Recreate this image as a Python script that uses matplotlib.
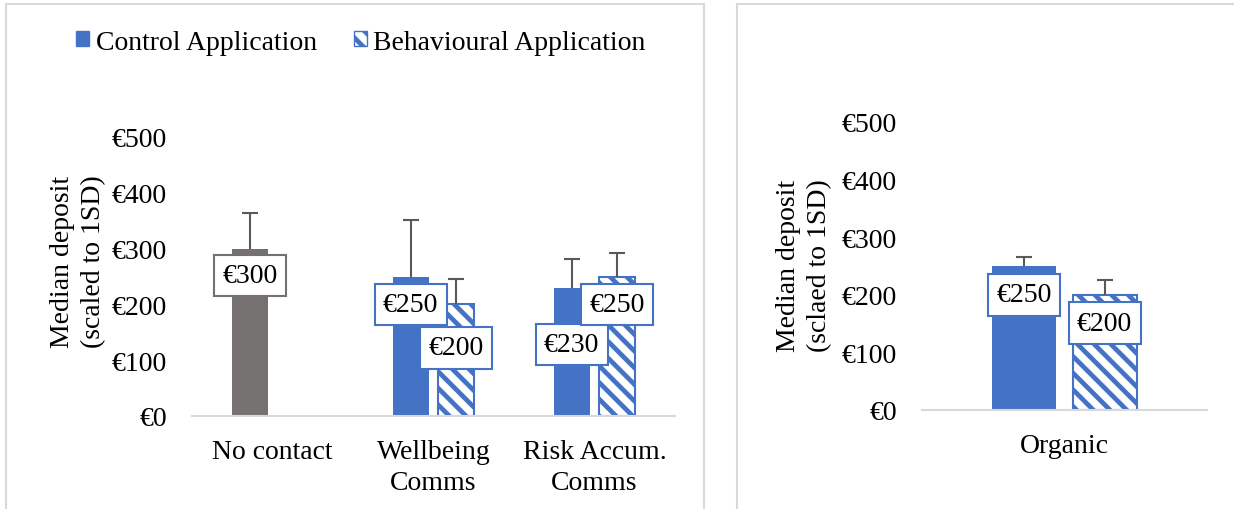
import matplotlib
matplotlib.use("Agg")
import matplotlib.pyplot as plt
from matplotlib.patches import Patch, Rectangle
import numpy as np

# ---------------- data ----------------
categories_left = ["No contact", "Wellbeing\nComms", "Risk Accum.\nComms"]
control_left = [300, 250, 230]
control_err_left = [63, 101, 51]
behav_left = [np.nan, 200, 250]
behav_err_left = [0, 46, 43]

categories_right = ["Organic"]
control_right = [250]
control_err_right = [16]
behav_right = [200]
behav_err_right = [26]

yticks = [0, 100, 200, 300, 400, 500]
series_names = ["Control Application", "Behavioural Application"]

# label placement (data y of label centre)
lab_ctrl_left = [252, 200, 128]
lab_behav_left = [np.nan, 122, 200]
lab_ctrl_right = [200]
lab_behav_right = [151]

# ---------------- style ----------------
BLUE = "#4472C4"
GREY = "#767171"
ERR = "#595959"
AX = "#D9D9D9"
FS = 20
HATCH = "\\\\"

plt.rcParams["font.family"] = ["Liberation Serif", "DejaVu Serif"]
plt.rcParams["hatch.linewidth"] = 3.4

W, H = 1234, 510
fig = plt.figure(figsize=(W / 100, H / 100), dpi=100)

# panel borders
fig.add_artist(Rectangle((6 / W, -0.05), 698 / W, (H - 5) / H + 0.05,
                         transform=fig.transFigure, fill=False, edgecolor=AX, lw=1.5))
fig.add_artist(Rectangle((737 / W, -0.05), 0.5, (H - 5) / H + 0.05,
                         transform=fig.transFigure, fill=False, edgecolor=AX, lw=1.5))


def make_ax(x0, x1, y0, y500):
    ax = fig.add_axes([x0 / W, (H - y0) / H, (x1 - x0) / W, (y0 - y500) / H])
    ax.set_ylim(0, 500)
    for s in ["top", "right", "left"]:
        ax.spines[s].set_visible(False)
    ax.spines["bottom"].set_color(AX)
    ax.spines["bottom"].set_linewidth(1.5)
    ax.set_yticks(yticks)
    ax.set_yticklabels([f"€{v}" for v in yticks], fontsize=FS)
    ax.tick_params(axis="both", length=0)
    ax.tick_params(axis="y", pad=18)
    ax.tick_params(axis="x", pad=16.5)
    ax.patch.set_visible(False)
    return ax


BW = 0.224
OFF = 0.141


def draw(ax, cats, ctrl, cerr, beh, berr, lc, lb, ctrl_colors, ctrl_edges):
    x = np.arange(len(cats))
    ax.bar(x - OFF, ctrl, BW, color=ctrl_colors, zorder=2)
    bmask = ~np.isnan(np.array(beh, dtype=float))
    xb = x[bmask]
    bv = np.array(beh, dtype=float)[bmask]
    ax.bar(xb + OFF, bv, BW, facecolor="white", edgecolor=BLUE, hatch=HATCH,
           linewidth=1.5, zorder=2)
    be = np.array(berr, dtype=float)[bmask]
    for xs, vs, es in [(x - OFF, ctrl, cerr), (xb + OFF, bv, be)]:
        eb = ax.errorbar(xs, vs, yerr=[np.zeros(len(vs)), es], fmt="none",
                         ecolor=ERR, elinewidth=1.5, capsize=5.5, capthick=1.5,
                         zorder=3)
        # hide the lower caps (sitting on the bar top)
        eb[1][0].set_visible(False)
    for i in range(len(cats)):
        ax.text(x[i] - OFF, lc[i], f"€{ctrl[i]}", ha="center", va="center",
                fontsize=FS, zorder=5,
                bbox=dict(boxstyle="square,pad=0.3", facecolor="white",
                          edgecolor=ctrl_edges[i], linewidth=1.5))
        if not np.isnan(beh[i]):
            ax.text(x[i] + OFF, lb[i], f"€{int(beh[i])}", ha="center", va="center",
                    fontsize=FS, zorder=5,
                    bbox=dict(boxstyle="square,pad=0.3", facecolor="white",
                              edgecolor=BLUE, linewidth=1.5))
    ax.set_xlim(-0.5, len(cats) - 0.5)
    ax.set_xticks(x)
    ax.set_xticklabels(cats, fontsize=FS, va="top", linespacing=1.3)


axL = make_ax(192, 675, 417, 138)
draw(axL, categories_left, control_left, control_err_left, behav_left, behav_err_left,
     lab_ctrl_left, lab_behav_left, [GREY, BLUE, BLUE], [GREY, BLUE, BLUE])
axL.set_ylabel("Median deposit\n(scaled to 1SD)", fontsize=FS, linespacing=1.33)
axL.yaxis.set_label_coords((106 - 192) / (675 - 192), (417 - 262) / (417 - 138))

axR = make_ax(922, 1207, 411, 123)
draw(axR, categories_right, control_right, control_err_right, behav_right, behav_err_right,
     lab_ctrl_right, lab_behav_right, [BLUE], [BLUE])
axR.set_ylabel("Median deposit\n(sclaed to 1SD)", fontsize=FS, linespacing=1.33)
axR.yaxis.set_label_coords((832 - 922) / (1207 - 922), (411 - 266) / (411 - 123))

handles = [Patch(facecolor=BLUE, edgecolor=BLUE),
           Patch(facecolor="white", edgecolor=BLUE, hatch=HATCH, linewidth=1.0)]
fig.legend(handles, series_names, loc="center", bbox_to_anchor=(361 / W, 1 - 43 / H),
           ncol=2, frameon=False, fontsize=FS, handlelength=0.47, handleheight=0.47,
           handletextpad=0.22, columnspacing=1.35, borderaxespad=0)

fig.savefig("out.png", dpi=100)
